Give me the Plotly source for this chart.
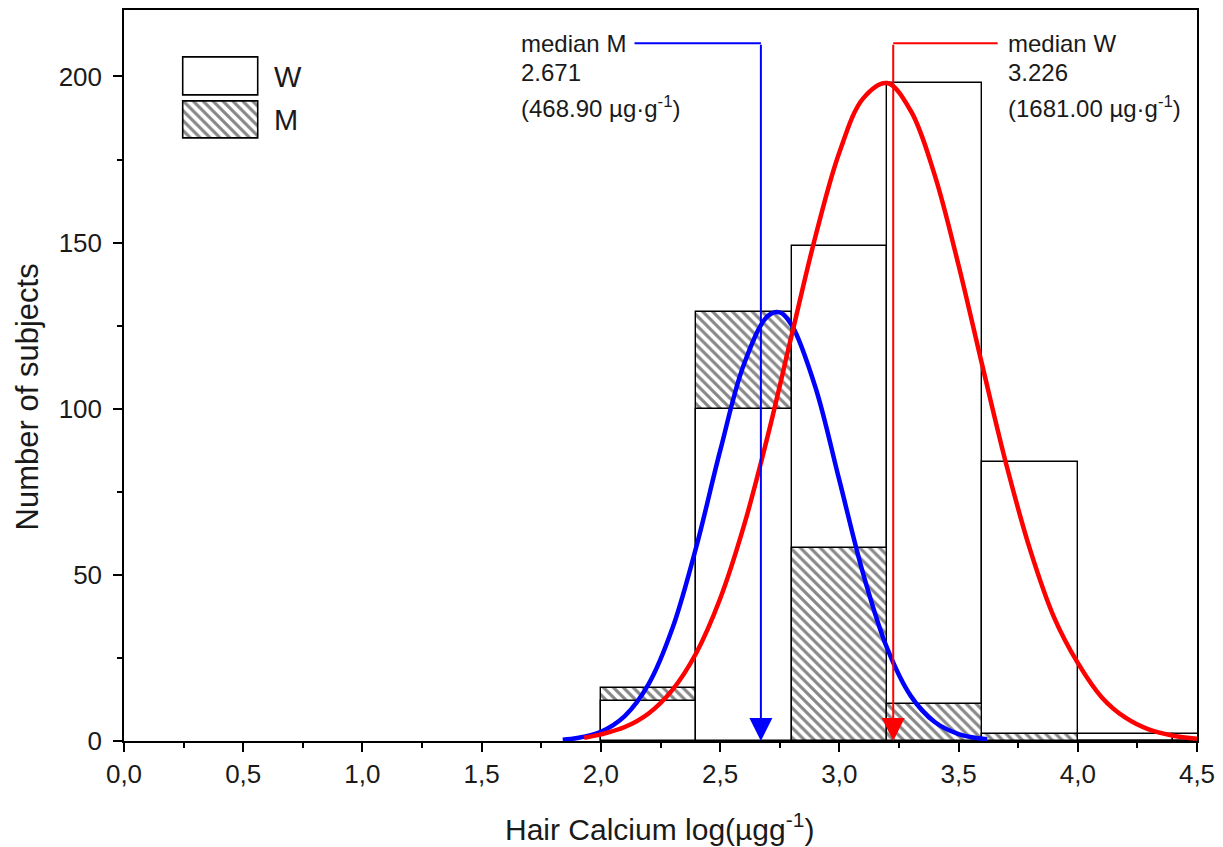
import plotly.graph_objects as go

# ---------------- data ----------------
bin_left = [2.0, 2.4, 2.8, 3.2, 3.6, 4.0, 4.4]
bin_width = 0.4
w_counts = [12, 100, 149, 198, 84, 2, 2]
m_counts = [16, 129, 58, 11, 2, 0, 0]

fit_m_x = [1.84, 1.9, 2.0, 2.1, 2.2, 2.3, 2.4, 2.5, 2.6, 2.7, 2.75, 2.8, 2.9, 3.0,
           3.1, 3.2, 3.3, 3.4, 3.5, 3.62]
fit_m_y = [0.4, 0.9, 2.8, 7.5, 17.1, 33.9, 58.4, 87.3, 113.4, 127.9, 129.0, 125.2,
           106.4, 78.5, 50.3, 28.0, 13.5, 5.7, 2.1, 0.5]

fit_w_x = [1.93, 2.0, 2.1, 2.2, 2.3, 2.4, 2.5, 2.6, 2.7, 2.8, 2.9, 3.0, 3.1, 3.2,
           3.3, 3.4, 3.5, 3.6, 3.7, 3.8, 3.9, 4.0, 4.1, 4.2, 4.3, 4.4, 4.5]
fit_w_y = [1.0, 2.0, 4.2, 8.3, 15.4, 26.5, 42.8, 64.8, 91.9, 122.1, 151.9, 177.1,
           193.4, 198.0, 189.6, 170.3, 143.2, 112.9, 83.3, 57.6, 37.3, 23.5, 13.2,
           7.0, 3.4, 1.6, 0.7]

median_m = 2.671
median_w = 3.226
median_m_lines = ["median M", "2.671", "(468.90 µg·g<sup>-1</sup>)"]
median_w_lines = ["median W", "3.226", "(1681.00 µg·g<sup>-1</sup>)"]

x_title = "Hair Calcium log(µgg<sup>-1</sup>)"
y_title = "Number of subjects"

# ---------------- styles ----------------
FONT = "Liberation Sans, Arial, sans-serif"
TXT = "#1a1a1a"
HATCH = "\\"
BLUE = "#0000FF"
RED = "#FF0000"
PAT = dict(fgcolor="#111111", bgcolor="white", size=7, solidity=0.45)

centers = [b + bin_width / 2 for b in bin_left]

# the smaller bar of each bin is drawn in front of the taller one
back_y, back_pat, front_y, front_pat = [], [], [], []
for w, m in zip(w_counts, m_counts):
    if m > w:
        back_y.append(m); back_pat.append(HATCH)
        front_y.append(w); front_pat.append("")
    else:
        back_y.append(w); back_pat.append("")
        front_y.append(m); front_pat.append(HATCH)

fig = go.Figure()

for ys, pats in ((back_y, back_pat), (front_y, front_pat)):
    fig.add_trace(go.Bar(
        x=centers, y=ys, width=bin_width,
        marker=dict(color="white",
                    line=dict(color="black", width=1.4),
                    pattern=dict(shape=pats, **PAT)),
        hoverinfo="skip", showlegend=False))

fig.add_trace(go.Scatter(x=fit_m_x, y=fit_m_y, mode="lines",
                         line=dict(color=BLUE, width=4.5, shape="spline"),
                         showlegend=False))
fig.add_trace(go.Scatter(x=fit_w_x, y=fit_w_y, mode="lines",
                         line=dict(color=RED, width=4.5, shape="spline"),
                         showlegend=False))

# legend boxes drawn as bars on a small inset axis
fig.add_trace(go.Bar(x=[1], y=[1], orientation="h", width=0.862, base=0,
                     xaxis="x2", yaxis="y2", cliponaxis=False,
                     marker=dict(color="white", line=dict(color="black", width=1.6)),
                     showlegend=False, hoverinfo="skip"))
fig.add_trace(go.Bar(x=[1], y=[0], orientation="h", width=0.862, base=0,
                     xaxis="x2", yaxis="y2", cliponaxis=False,
                     marker=dict(color="white", line=dict(color="black", width=1.6),
                                 pattern=dict(shape=HATCH, **PAT)),
                     showlegend=False, hoverinfo="skip"))

annotations = []
shapes = []

# median markers
y_line = 210
for med, x_start, col in ((median_m, 2.141, BLUE), (median_w, 3.664, RED)):
    shapes.append(dict(type="line", xref="x", yref="y", x0=x_start, x1=med,
                       y0=y_line, y1=y_line, line=dict(color=col, width=2),
                       layer="above"))
    annotations.append(dict(x=med, y=0, xref="x", yref="y", ax=med, ay=y_line,
                            axref="x", ayref="y", text="", showarrow=True,
                            arrowhead=2, arrowsize=2.3, arrowwidth=2,
                            arrowcolor=col, standoff=0))

text_rows_y = [210.0, 201.3, 190.8]
for lines, x_left in ((median_m_lines, 1.658), (median_w_lines, 3.697)):
    for t, yy in zip(lines, text_rows_y):
        annotations.append(dict(x=x_left, y=yy, xref="x", yref="y", text=t,
                                showarrow=False, xanchor="left", yanchor="middle",
                                font=dict(family=FONT, size=24, color=TXT)))

# legend labels
annotations.append(dict(x=0.138, y=0.909, xref="paper", yref="paper", text="W",
                        showarrow=False, xanchor="left", yanchor="middle",
                        font=dict(family=FONT, size=29, color=TXT)))
annotations.append(dict(x=0.138, y=0.8495, xref="paper", yref="paper", text="M",
                        showarrow=False, xanchor="left", yanchor="middle",
                        font=dict(family=FONT, size=29, color=TXT)))

# axis titles
annotations.append(dict(x=0.499, y=-0.118, xref="paper", yref="paper", text=x_title,
                        showarrow=False, xanchor="center", yanchor="middle",
                        font=dict(family=FONT, size=30, color=TXT)))
annotations.append(dict(x=-0.0904, y=0.47, xref="paper", yref="paper", text=y_title,
                        showarrow=False, xanchor="center", yanchor="middle",
                        textangle=-90,
                        font=dict(family=FONT, size=31, color=TXT)))

fig.update_layout(
    width=1215, height=839,
    margin=dict(l=116, r=26, t=2, b=106, autoexpand=False),
    plot_bgcolor="white", paper_bgcolor="white",
    barmode="overlay", bargap=0,
    separators=",.",
    showlegend=False,
    font=dict(family=FONT, size=26, color=TXT),
    annotations=annotations, shapes=shapes,
    xaxis=dict(range=[0, 4.5], dtick=0.5, tick0=0, tickformat=".1f",
               showline=True, linecolor="black", linewidth=1.5, mirror=True,
               ticks="outside", ticklen=9, tickwidth=1.5, tickcolor="black",
               minor=dict(dtick=0.25, tick0=0, ticks="outside", ticklen=5,
                          tickwidth=1.5, tickcolor="black"),
               showgrid=False, zeroline=False,
               tickfont=dict(family=FONT, size=26, color=TXT)),
    yaxis=dict(range=[0, 220], dtick=50, tick0=0,
               showline=True, linecolor="black", linewidth=1.5, mirror=True,
               ticks="outside", ticklen=9, tickwidth=1.5, tickcolor="black",
               minor=dict(dtick=25, tick0=0, ticks="outside", ticklen=5,
                          tickwidth=1.5, tickcolor="black"),
               showgrid=False, zeroline=False, ticklabelstandoff=6,
               tickfont=dict(family=FONT, size=26, color=TXT)),
    xaxis2=dict(domain=[0.048, 0.1319], anchor="y2", range=[-0.1, 1.1],
                visible=False, fixedrange=True),
    yaxis2=dict(domain=[0.8176, 0.9403], anchor="x2", range=[-0.531, 1.531],
                visible=False, fixedrange=True),
)

fig.write_html("out.html")
